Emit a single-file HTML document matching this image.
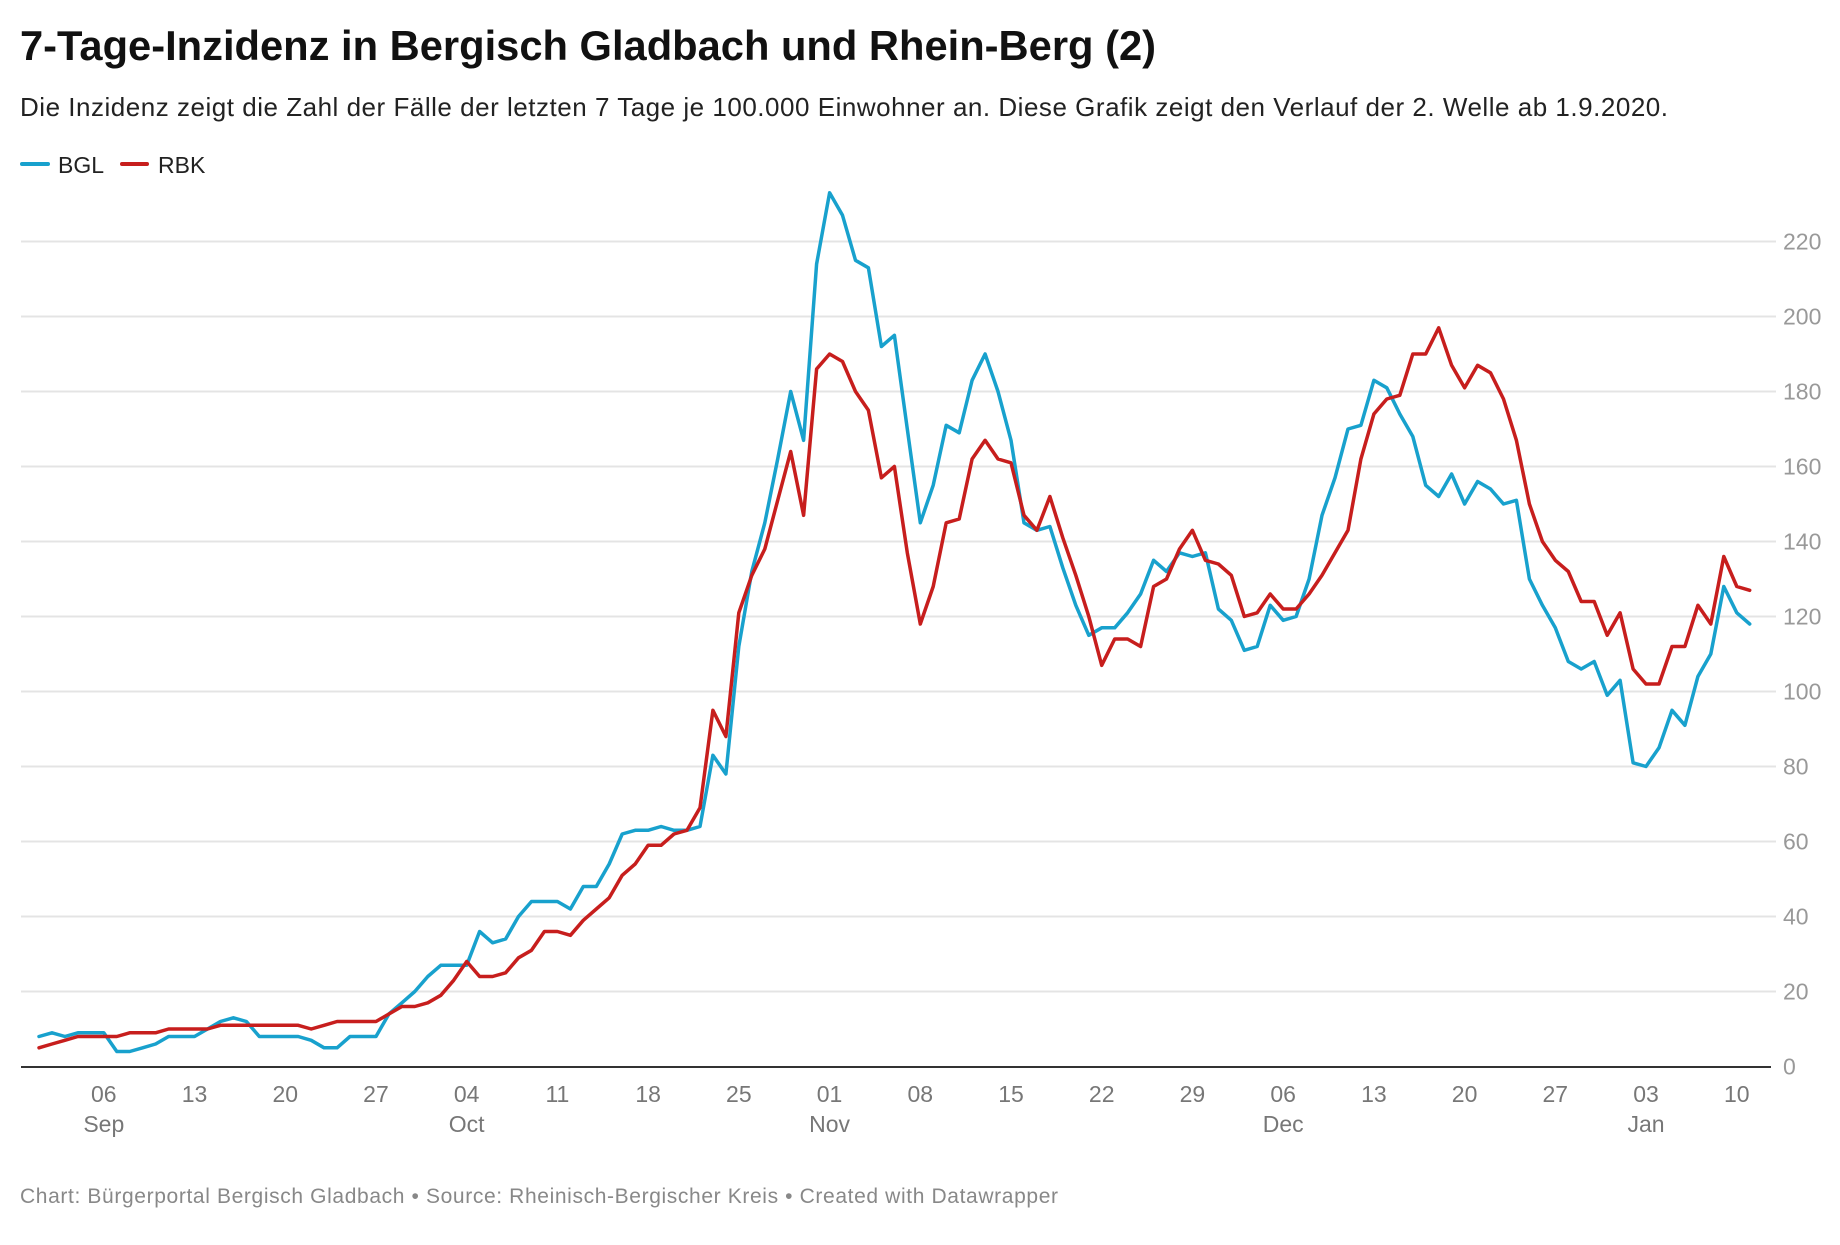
<!DOCTYPE html>
<html><head><meta charset="utf-8"><style>
body{margin:0;background:#fff;width:1840px;height:1240px;overflow:hidden;font-family:"Liberation Sans",sans-serif}
</style></head><body>
<svg id="s" width="1840" height="1240" xmlns="http://www.w3.org/2000/svg" font-family="Liberation Sans, sans-serif">
<text x="20" y="60" font-size="42" font-weight="bold" fill="#111" textLength="1136" lengthAdjust="spacingAndGlyphs">7-Tage-Inzidenz in Bergisch Gladbach und Rhein-Berg (2)</text>
<text x="20" y="116" font-size="26" fill="#222" textLength="1648" lengthAdjust="spacing">Die Inzidenz zeigt die Zahl der Fälle der letzten 7 Tage je 100.000 Einwohner an. Diese Grafik zeigt den Verlauf der 2. Welle ab 1.9.2020.</text>
<line x1="22" y1="164" x2="48" y2="164" stroke="#18a1cd" stroke-width="4" stroke-linecap="round"/>
<text x="58" y="173" font-size="23" fill="#222">BGL</text>
<line x1="122" y1="164" x2="147" y2="164" stroke="#c71e1d" stroke-width="4" stroke-linecap="round"/>
<text x="158" y="173" font-size="23" fill="#222">RBK</text>
<g id="grid"></g>
<g id="series"></g>
<text x="20" y="1203" font-size="21" fill="#888" textLength="1038" lengthAdjust="spacing">Chart: Bürgerportal Bergisch Gladbach • Source: Rheinisch-Bergischer Kreis • Created with Datawrapper</text>
</svg>
<script>
var NS="http://www.w3.org/2000/svg";
function el(t,a,p,txt){var e=document.createElementNS(NS,t);for(var k in a)e.setAttribute(k,a[k]);if(txt!=null)e.textContent=txt;p.appendChild(e);return e;}
var g=document.getElementById('grid');
function Y(v){return 1066.5-v*3.75;}
function X(i){return 39+i*12.96;}
for(var v=20;v<=220;v+=20){el('line',{x1:21,x2:1776,y1:Y(v),y2:Y(v),stroke:'#e4e4e4','stroke-width':2},g);}
for(var v=0;v<=220;v+=20){el('text',{x:1783,y:Y(v)+8,'font-size':23,fill:'#999'},g,String(v));}
el('line',{x1:21,x2:1771,y1:1067,y2:1067,stroke:'#333','stroke-width':2},g);
var ticks=[[5,'06','Sep'],[12,'13'],[19,'20'],[26,'27'],[33,'04','Oct'],[40,'11'],[47,'18'],[54,'25'],[61,'01','Nov'],[68,'08'],[75,'15'],[82,'22'],[89,'29'],[96,'06','Dec'],[103,'13'],[110,'20'],[117,'27'],[124,'03','Jan'],[131,'10']];
ticks.forEach(function(t){el('text',{x:X(t[0]),y:1102,'font-size':23,fill:'#777','text-anchor':'middle'},g,t[1]);if(t[2])el('text',{x:X(t[0]),y:1132,'font-size':23,fill:'#777','text-anchor':'middle'},g,t[2]);});
var bgl=[8,9,8,9,9,9,4,4,5,6,8,8,8,10,12,13,12,8,8,8,8,7,5,5,8,8,8,14,17,20,
24,27,27,27,36,33,34,40,44,44,44,42,48,48,54,62,63,63,64,63,63,64,83,78,112,132,145,162,180,167,214,
233,227,215,213,192,195,170,145,155,171,169,183,190,180,167,145,143,144,133,123,115,117,117,121,126,135,132,137,136,137,
122,119,111,112,123,119,120,130,147,157,170,171,183,181,174,168,155,152,158,150,156,154,150,151,130,123,117,108,106,108,99,
103,81,80,85,95,91,104,110,128,121,118];
var rbk=[5,6,7,8,8,8,8,9,9,9,10,10,10,10,11,11,11,11,11,11,11,10,11,12,12,12,12,14,16,16,
17,19,23,28,24,24,25,29,31,36,36,35,39,42,45,51,54,59,59,62,63,69,95,88,121,131,138,151,164,147,186,
190,188,180,175,157,160,137,118,128,145,146,162,167,162,161,147,143,152,141,131,120,107,114,114,112,128,130,138,143,135,
134,131,120,121,126,122,122,126,131,137,143,162,174,178,179,190,190,197,187,181,187,185,178,167,150,140,135,132,124,124,115,
121,106,102,102,112,112,123,118,136,128,127];
var s=document.getElementById('series');
function line(d,c){el('polyline',{points:d.map(function(v,i){return X(i).toFixed(1)+','+Y(v).toFixed(1)}).join(' '),fill:'none',stroke:c,'stroke-width':3.5,'stroke-linejoin':'round','stroke-linecap':'round'},s);}
line(bgl,'#18a1cd');line(rbk,'#c71e1d');
</script>
</body></html>
